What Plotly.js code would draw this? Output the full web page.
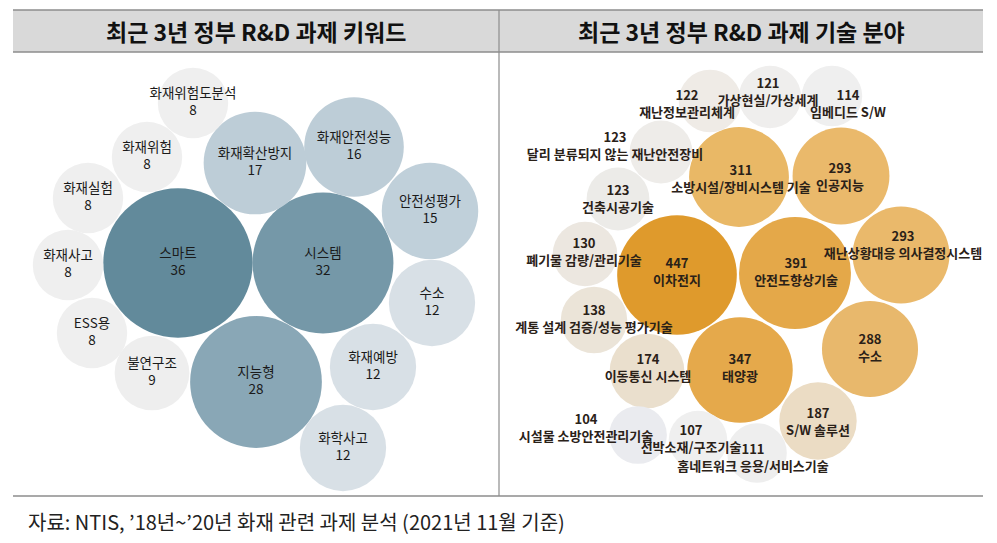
<!DOCTYPE html>
<html>
<head>
<meta charset="utf-8">
<script src="https://cdn.plot.ly/plotly-3.0.1.min.js"></script>
<style>
  html, body { margin: 0; padding: 0; background: #ffffff; }
  #chart { width: 997px; height: 543px; }
</style>
</head>
<body>
<div id="chart"></div>
<script>
// ---------- data ----------
const leftTitle = '최근 3년 정부 R&D 과제 키워드';
const rightTitle = '최근 3년 정부 R&D 과제 기술 분야';
const sourceNote = '자료: NTIS, ’18년~’20년 화재 관련 과제 분석 (2021년 11월 기준)';

const keywordNames = ['스마트', '시스템', '지능형', '화재확산방지', '화재안전성능', '안전성평가',
  '수소', '화재예방', '화학사고', '불연구조', '화재위험도분석', '화재위험', '화재실험', '화재사고', 'ESS용'];
const keywordCounts = [36, 32, 28, 17, 16, 15, 12, 12, 12, 9, 8, 8, 8, 8, 8];

const fieldNames = ['이차전지', '안전도향상기술', '태양광', '소방시설/장비시스템 기술', '인공지능',
  '재난상황대응 의사결정시스템', '수소', 'S/W 솔루션', '이동통신 시스템', '계통 설계 검증/성능 평가기술',
  '폐기물 감량/관리기술', '건축시공기술', '달리 분류되지 않는 재난안전장비', '재난정보관리체계',
  '가상현실/가상세계', '임베디드 S/W', '홈네트워크 응용/서비스기술', '선박소재/구조기술', '시설물 소방안전관리기술'];
const fieldCounts = [447, 391, 347, 311, 293, 293, 288, 187, 174, 138, 130, 123, 123, 122, 121, 114, 111, 107, 104];

// ---------- packed-bubble layout (page pixel coordinates) ----------
const keywordPosX = [178, 323, 256, 255, 354, 430, 432, 373, 343, 152, 193, 147, 88, 68, 92];
const keywordPosY = [263, 263, 382, 163, 147, 211, 303, 367, 448, 373, 103, 157, 198, 265, 333];
const keywordColors = ['#628a9b', '#7598a8', '#89a7b6', '#bdcdd7', '#bdcdd7', '#c0d0da',
  '#d8e0e6', '#d8e0e6', '#d8e0e6', '#eeeeee', '#efefef', '#efefef', '#efefef', '#efefef', '#efefef'];

const fieldPosX = [677, 795, 740, 739, 841, 901, 870, 818, 647, 594, 585, 618, 661, 710, 770, 832, 757, 698, 638];
const fieldPosY = [275, 273, 370, 177, 176, 255, 349, 421, 371, 320, 254, 199, 152, 101, 97, 96, 453, 440, 435];
const fieldLabelX = [677, 796, 740, 741, 840, 903, 870, 818, 648, 594, 584, 618, 615, 687, 768, 848, 753, 691, 586];
const fieldLabelY = [273, 273, 369, 180, 178, 246, 349, 423, 369, 320, 253, 200, 147, 105, 93, 105, 459, 440, 429];
const fieldColors = ['#df9a2c', '#e4a849', '#e5a94b', '#e9b866', '#eab96b', '#eab96b', '#e8b86c',
  '#ebdcc4', '#eadfcd', '#ebe4d8', '#ece7e0', '#ecebe8', '#eeece9', '#efebe6', '#efeeed', '#efefef',
  '#eeeeee', '#efefef', '#eaebef'];

const FONT = '"Noto Sans CJK KR", "Noto Sans", sans-serif';

// plotly area mode: radius = sqrt(size / (2*sizeref))
const kScale = 12.45;  // px radius per sqrt(count)
const fScale = 2.83;

const traces = [
  {
    type: 'scatter', mode: 'markers+text',
    x: keywordPosX, y: keywordPosY,
    text: keywordNames.map((n, i) => n + '<br>' + keywordCounts[i]),
    textposition: 'middle center',
    textfont: { family: FONT, size: 13.5, color: '#1a1a1a' },
    marker: { size: keywordCounts, sizemode: 'area', sizeref: 1 / (2 * kScale * kScale),
              color: keywordColors, line: { width: 0 }, opacity: 1 },
    hoverinfo: 'skip', showlegend: false, cliponaxis: false
  },
  {
    type: 'scatter', mode: 'markers',
    x: fieldPosX, y: fieldPosY,
    marker: { size: fieldCounts, sizemode: 'area', sizeref: 1 / (2 * fScale * fScale),
              color: fieldColors, line: { width: 0 }, opacity: 1 },
    hoverinfo: 'skip', showlegend: false, cliponaxis: false
  },
  {
    type: 'scatter', mode: 'text',
    x: fieldLabelX, y: fieldLabelY,
    text: fieldNames.map((n, i) => '<b>' + fieldCounts[i] + '<br>' + n + '</b>'),
    textposition: 'middle center',
    textfont: { family: FONT, size: 13, color: '#2a2118' },
    hoverinfo: 'skip', showlegend: false, cliponaxis: false
  }
];

const lineCol = '#8c8c8c';
const layout = {
  width: 997, height: 543, autosize: false,
  margin: { l: 0, r: 0, t: 0, b: 0, pad: 0 },
  paper_bgcolor: '#ffffff', plot_bgcolor: '#ffffff',
  xaxis: { range: [0, 997], visible: false, fixedrange: true },
  yaxis: { range: [543, 0], visible: false, fixedrange: true },
  showlegend: false,
  shapes: [
    { type: 'rect', xref: 'x', yref: 'y', x0: 13, x1: 983, y0: 10, y1: 52, fillcolor: '#d9d9d9', line: { width: 0 }, layer: 'below' },
    { type: 'line', xref: 'x', yref: 'y', x0: 13, x1: 983, y0: 10, y1: 10, line: { color: lineCol, width: 1.5 }, layer: 'below' },
    { type: 'line', xref: 'x', yref: 'y', x0: 13, x1: 983, y0: 52, y1: 52, line: { color: lineCol, width: 1.5 }, layer: 'below' },
    { type: 'line', xref: 'x', yref: 'y', x0: 499, x1: 499, y0: 10, y1: 496, line: { color: lineCol, width: 1.2 }, layer: 'below' },
    { type: 'line', xref: 'x', yref: 'y', x0: 13, x1: 983, y0: 496, y1: 496, line: { color: lineCol, width: 1.5 }, layer: 'below' }
  ],
  annotations: [
    { xref: 'x', yref: 'y', x: 256, y: 31, text: '<b>' + leftTitle + '</b>', showarrow: false,
      font: { family: FONT, size: 23, color: '#111111' }, xanchor: 'center', yanchor: 'middle' },
    { xref: 'x', yref: 'y', x: 741, y: 31, text: '<b>' + rightTitle + '</b>', showarrow: false,
      font: { family: FONT, size: 23, color: '#111111' }, xanchor: 'center', yanchor: 'middle' },
    { xref: 'x', yref: 'y', x: 26, y: 521, text: sourceNote, showarrow: false,
      font: { family: FONT, size: 20, color: '#222222' }, xanchor: 'left', yanchor: 'middle' }
  ]
};

Plotly.newPlot('chart', traces, layout, { staticPlot: true, displayModeBar: false });
</script>
</body>
</html>
